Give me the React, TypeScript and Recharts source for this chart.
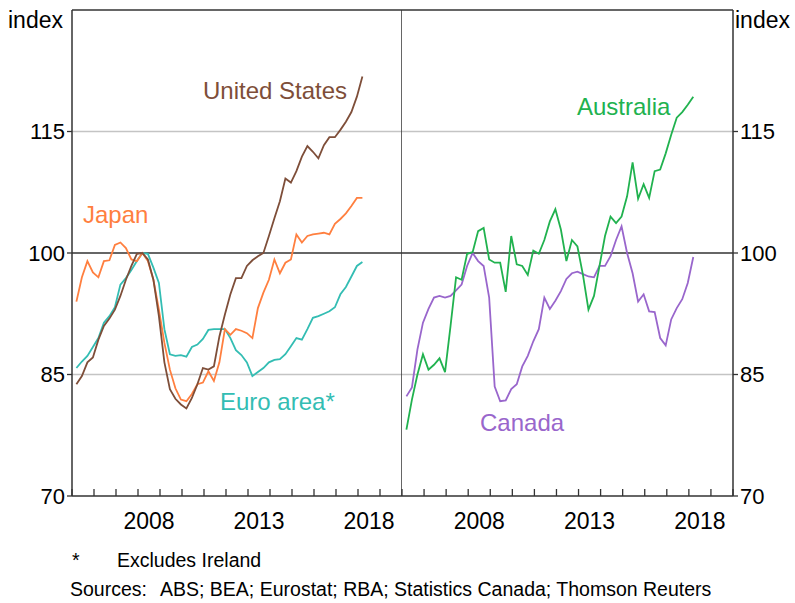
import { Line, LineChart, ReferenceLine, XAxis, YAxis } from "recharts";

// Quarterly index, 2008 = 100-ish. First observation is 2005 Q1.
const FIRST_YEAR = 2005;

const unitedStates = [
  83.8, 84.8, 86.5, 87.1, 89.3, 91.0, 91.9, 93.0, 94.7, 96.7,
  98.4, 99.9, 100.0, 99.2, 96.7, 92.2, 86.5, 83.2, 82.0, 81.3,
  80.8, 82.1, 83.8, 85.8, 85.6, 86.0, 89.7, 92.4, 94.9, 96.9,
  96.9, 98.4, 99.1, 99.6, 100.0, 102.1, 104.3, 106.4, 109.2, 108.7,
  110.1, 111.9, 113.2, 112.5, 111.7, 113.3, 114.3, 114.3, 115.2, 116.2,
  117.4, 119.3, 121.8,
];
const japan = [
  94.0, 97.0, 99.0, 97.6, 97.0, 99.0, 99.1, 101.0, 101.3, 100.6,
  99.2, 99.0, 100.0, 99.0, 96.7, 93.0, 88.9, 85.6, 83.3, 81.9,
  81.7, 82.6, 83.8, 84.0, 85.4, 84.2, 86.5, 90.6, 89.9, 90.6,
  90.4, 90.1, 89.5, 93.2, 95.1, 96.7, 99.2, 97.5, 98.8, 99.2,
  102.3, 101.3, 102.1, 102.3, 102.4, 102.5, 102.3, 103.6, 104.2, 104.9,
  105.8, 106.8, 106.8,
];
const euroArea = [
  85.8, 86.6, 87.3, 88.4, 89.5, 91.4, 92.2, 93.3, 96.1, 96.9,
  97.9, 99.0, 100.0, 99.9, 98.2, 96.3, 90.6, 87.5, 87.3, 87.4,
  87.2, 88.4, 88.7, 89.4, 90.5, 90.6, 90.6, 90.6, 89.5, 88.0,
  87.4, 86.5, 84.8, 85.3, 85.8, 86.5, 86.8, 86.9, 87.5, 88.5,
  89.5, 89.3, 90.6, 92.0, 92.2, 92.5, 92.8, 93.3, 94.9, 95.8,
  97.1, 98.4, 98.9,
];
const australia = [
  78.2, 81.9, 85.0, 87.5, 85.6, 86.2, 87.0, 85.3, 91.0, 97.0,
  96.7, 99.9, 100.1, 102.7, 103.1, 99.2, 98.8, 98.8, 95.2, 102.1,
  98.6, 98.4, 97.3, 100.3, 99.9, 101.6, 103.9, 105.4, 102.9, 99.0,
  101.6, 100.8, 97.3, 93.0, 94.7, 98.4, 102.1, 104.5, 103.7, 104.5,
  107.0, 111.2, 106.7, 108.5, 106.8, 110.1, 110.3, 112.3, 114.6, 116.7,
  117.4, 118.3, 119.3,
];
const canada = [
  82.3, 83.4, 88.1, 91.4, 93.1, 94.5, 94.7, 94.5, 94.7, 95.4,
  96.1, 98.4, 100.0, 99.0, 98.4, 94.5, 83.5, 81.7, 81.8, 83.2,
  83.8, 86.0, 87.3, 89.1, 90.6, 94.5, 93.1, 94.1, 95.3, 96.8,
  97.5, 97.7, 97.4, 97.1, 97.0, 98.4, 98.4, 99.6, 101.6, 103.3,
  100.0, 97.5, 94.0, 94.9, 92.8, 92.7, 89.5, 88.6, 91.8, 93.2,
  94.3, 96.3, 99.5,
];

const yTicks = [70, 85, 100, 115];
const yearTicks = [
  2005, 2006, 2007, 2008, 2009, 2010, 2011, 2012,
  2013, 2014, 2015, 2016, 2017, 2018, 2019, 2020,
];
const labelYears = [2008, 2013, 2018];

// quarter labels like "2005Q1"
const quarters = unitedStates.map(
  (_, i) => `${FIRST_YEAR + Math.floor(i / 4)}Q${(i % 4) + 1}`,
);
// position of a quarterly observation on the year axis
const quarterToYear = (q: string) =>
  Number(q.slice(0, 4)) + (Number(q.slice(5)) - 1) / 4 + 0.2;

const rows = quarters.map((q, i) => ({
  quarter: q,
  t: quarterToYear(q),
  us: unitedStates[i],
  japan: japan[i],
  euro: euroArea[i],
  australia: australia[i],
  canada: canada[i],
}));

const xTicks = [...yearTicks, ...labelYears.map((y) => y + 0.5)].sort(
  (a, b) => a - b,
);

const FRAME = "#333333";
const GRID = "#c4c4c4";
const FONT = "'Liberation Sans', Arial, sans-serif";

const COLORS = {
  us: "#7e4e39",
  japan: "#ff7f3f",
  euro: "#33bdb3",
  australia: "#21b24f",
  canada: "#9966cc",
};

function YearTick(props: any) {
  const { x, y, payload } = props;
  const v = payload.value as number;
  if (Number.isInteger(v)) {
    return (
      <line x1={x} x2={x} y1={y} y2={y - 7} stroke={FRAME} strokeWidth={1.3} />
    );
  }
  return (
    <text x={x} y={y + 33} textAnchor="middle" fontSize={23} fill="#000">
      {Math.floor(v)}
    </text>
  );
}

function Panel({
  side,
  children,
}: {
  side: "left" | "right";
  children: React.ReactNode;
}) {
  const isLeft = side === "left";
  return (
    <LineChart
      width={isLeft ? 402 : 391}
      height={540}
      data={rows}
      margin={{ top: 10, right: 0, bottom: 0, left: 0 }}
    >
      <XAxis
        type="number"
        dataKey="t"
        domain={[2005, 2020]}
        ticks={xTicks}
        interval={0}
        tickLine={false}
        tickSize={0}
        tickMargin={0}
        height={44}
        axisLine={{ stroke: FRAME, strokeWidth: 1.5 }}
        tick={(p: any) => <YearTick {...p} />}
      />
      <YAxis
        orientation={side}
        domain={[70, 130]}
        ticks={yTicks}
        interval={0}
        width={isLeft ? 72 : 60}
        tickSize={5}
        tick={{ fill: "#000", fontSize: 22 }}
        tickLine={{ stroke: FRAME, strokeWidth: 1.3 }}
        axisLine={{ stroke: FRAME, strokeWidth: 1.5 }}
      />
      <ReferenceLine y={85} stroke={GRID} strokeWidth={1.5} />
      <ReferenceLine y={115} stroke={GRID} strokeWidth={1.5} />
      <ReferenceLine y={100} stroke={FRAME} strokeWidth={1.5} />
      <ReferenceLine y={130} stroke={FRAME} strokeWidth={1.5} />
      {isLeft && <ReferenceLine x={2020} stroke={FRAME} strokeWidth={1.5} />}
      {children}
    </LineChart>
  );
}

const seriesLabel = (
  text: string,
  color: string,
  left: number,
  top: number,
): React.CSSProperties & { text?: string } => ({
  position: "absolute",
  left,
  top,
  color,
  fontSize: 24,
  lineHeight: 1,
  whiteSpace: "nowrap",
});

export default function App() {
  const lineProps = {
    type: "linear" as const,
    dot: false,
    strokeWidth: 1.8,
    isAnimationActive: false,
  };
  return (
    <div
      style={{
        position: "absolute",
        left: 0,
        top: 0,
        width: 795,
        height: 603,
        background: "#fff",
        fontFamily: FONT,
        color: "#000",
        overflow: "hidden",
      }}
    >
      <div style={{ position: "absolute", left: 0, top: 0 }}>
        <Panel side="left">
          <Line dataKey="euro" stroke={COLORS.euro} {...lineProps} />
          <Line dataKey="japan" stroke={COLORS.japan} {...lineProps} />
          <Line dataKey="us" stroke={COLORS.us} {...lineProps} />
        </Panel>
      </div>
      <div style={{ position: "absolute", left: 402, top: 0 }}>
        <Panel side="right">
          <Line dataKey="canada" stroke={COLORS.canada} {...lineProps} />
          <Line dataKey="australia" stroke={COLORS.australia} {...lineProps} />
        </Panel>
      </div>

      {/* axis units */}
      <div style={{ position: "absolute", left: 8, top: 9, fontSize: 23, lineHeight: 1 }}>
        index
      </div>
      <div style={{ position: "absolute", left: 735, top: 9, fontSize: 23, lineHeight: 1 }}>
        index
      </div>

      {/* series labels */}
      <div style={seriesLabel("United States", COLORS.us, 203, 79)}>United States</div>
      <div style={seriesLabel("Japan", COLORS.japan, 83, 203)}>Japan</div>
      <div style={seriesLabel("Euro area*", COLORS.euro, 220, 390)}>Euro area*</div>
      <div style={seriesLabel("Australia", COLORS.australia, 577, 95)}>Australia</div>
      <div style={seriesLabel("Canada", COLORS.canada, 480, 411)}>Canada</div>

      {/* notes */}
      <div style={{ position: "absolute", left: 72, top: 551, fontSize: 19.5, lineHeight: 1 }}>
        <span style={{ display: "inline-block", width: 45 }}>*</span>
        Excludes Ireland
      </div>
      <div style={{ position: "absolute", left: 70, top: 580, fontSize: 19.5, lineHeight: 1, whiteSpace: "nowrap" }}>
        <span style={{ display: "inline-block", width: 90 }}>Sources:</span>
        ABS; BEA; Eurostat; RBA; Statistics Canada; Thomson Reuters
      </div>
    </div>
  );
}
